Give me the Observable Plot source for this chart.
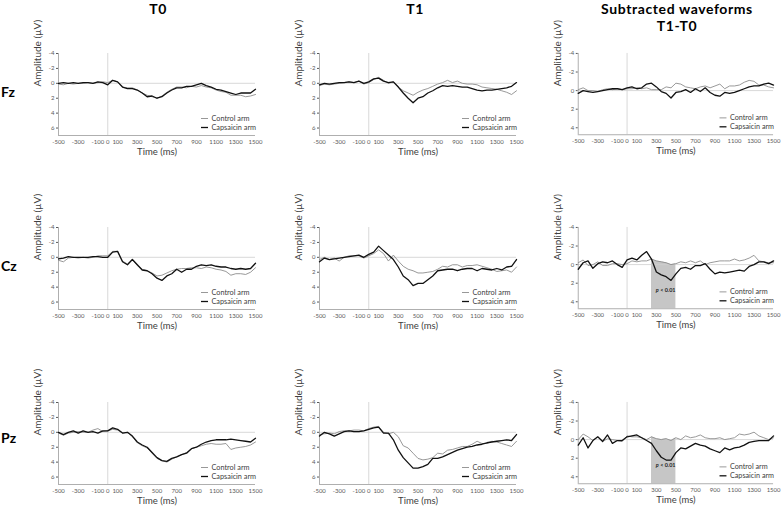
<!DOCTYPE html>
<html><head><meta charset="utf-8">
<script src="https://cdn.jsdelivr.net/npm/d3@7"></script>
<script src="https://cdn.jsdelivr.net/npm/@observablehq/plot@0.6"></script>
<style>
body{margin:0;background:#fff;}
#root{position:relative;width:781px;height:507px;font-family:Lato,"Open Sans",sans-serif;overflow:hidden;}
.title{position:absolute;font-weight:bold;font-size:14px;letter-spacing:0.6px;text-align:center;transform:translateX(-50%);line-height:17px;white-space:nowrap;color:#000;}
.row{position:absolute;font-weight:bold;font-size:14px;line-height:17px;color:#000;}
.panel{position:absolute;}
</style></head><body><div id="root"></div>
<script>
// ---- data ----
const times = [-500,-450,-400,-350,-300,-250,-200,-150,-100,-50,0,50,100,150,200,250,300,350,400,450,500,550,600,650,700,750,800,850,900,950,1000,1050,1100,1150,1200,1250,1300,1350,1400,1450,1500];
const xTicks = [-500,-300,-100,0,100,300,500,700,900,1100,1300,1500];
const yTicksRaw = [-4,-2,0,2,4,6];
const yTicksDiff = [-4,-2,0,2,4];
const colTitles = ["T0","T1","Subtracted waveforms\nT1-T0"];
const rowLabels = ["Fz","Cz","Pz"];
const seriesNames = ["Control arm","Capsaicin arm"];
const sigWindow = [250,500];
const sigLabel = "< 0.01";

const fzT0Control = [0.1,0.2,0.0,0.1,0.0,0.0,-0.1,0.0,-0.1,-0.2,-0.1, -0.4,-0.2,0.5,0.6,0.6,0.9,1.3,1.6,1.8,2.0, 1.7,1.2,0.8,0.5,0.5,0.6,0.4,0.5,0.3,0.5, 0.6,0.9,1.1,1.2,1.6,1.6,1.6,1.8,1.7,1.5];
const fzT0Caps    = [0.0,-0.1,0.0,-0.1,0.0,-0.1,-0.1,0.0,-0.2,-0.1,0.2, -0.4,-0.2,0.5,0.7,0.7,0.9,1.3,1.8,1.7,2.0, 1.8,1.3,0.9,0.6,0.6,0.4,0.4,0.2,0.0,0.3, 0.5,0.8,0.9,1.1,1.3,1.5,1.3,1.3,1.3,0.8];
const fzT1Control = [0.3,0.1,0.2,0.1,0.0,-0.1,-0.2,-0.1,-0.3,0.1,-0.1, -0.5,-0.8,-0.4,0.0,-0.2,0.5,1.0,1.3,1.6,1.2, 0.9,0.7,0.4,0.1,-0.1,-0.4,-0.1,-0.3,0.0,0.1, 0.1,0.2,0.5,0.6,0.7,0.8,1.0,1.2,1.5,1.0];
const fzT1Caps    = [0.2,0.0,0.1,0.0,-0.1,-0.1,-0.2,-0.1,-0.3,0.0,-0.2, -0.6,-0.7,-0.3,-0.1,-0.2,0.5,1.3,2.0,2.6,2.0, 1.8,1.3,1.0,0.6,0.3,0.4,0.3,0.4,0.5,0.5, 0.7,0.9,1.0,0.9,0.9,0.8,0.7,0.6,0.4,-0.1];
const fzDiffControl = [-0.1,-0.3,0.0,0.0,0.1,-0.1,-0.2,-0.1,-0.2,-0.1,-0.2, -0.2,-0.3,-0.2,-0.3,-0.1,-0.1,-0.1,-0.4,-0.3,-0.8, -0.7,-0.4,-0.3,-0.2,-0.4,-0.5,-0.3,-0.5,-0.7,-0.2, -0.5,-0.5,-0.6,-0.9,-1.1,-1.0,-0.6,-0.6,-0.4,-0.3];
const fzDiffCaps    = [0.3,0.0,0.1,0.2,0.1,0.0,-0.1,-0.2,-0.2,-0.1,-0.3, -0.4,-0.2,-0.3,-0.7,-0.8,-0.4,0.1,0.3,0.8,0.2, 0.1,-0.1,0.2,-0.2,0.1,-0.3,0.2,0.5,0.6,0.2, 0.3,0.2,0.0,-0.2,-0.4,-0.5,-0.5,-0.7,-0.8,-0.6];

const czT0Control = [0.4,0.6,0.1,0.0,0.1,0.0,0.1,0.0,-0.2,-0.2,-0.2, -0.8,-0.8,0.5,0.9,0.3,1.1,1.6,1.8,2.1,2.5, 2.4,2.1,1.8,1.6,1.5,1.5,1.4,1.4,1.5,1.3, 1.4,1.6,1.7,1.9,2.4,2.2,2.2,2.3,2.0,1.4];
const czT0Caps    = [0.2,0.1,-0.1,0.0,0.0,0.0,0.0,-0.1,-0.1,0.0,0.0, -0.7,-0.8,0.6,1.0,0.3,1.0,1.7,1.8,2.2,2.8, 3.1,2.5,2.2,1.6,2.0,1.6,1.6,1.2,1.0,1.1, 1.0,1.2,1.3,1.3,1.5,1.6,1.5,1.6,1.5,0.8];
const czT1Control = [0.3,0.0,0.3,0.1,0.5,0.0,-0.2,-0.2,-0.2,0.1,-0.2, -0.5,-1.0,-0.5,0.5,-0.3,0.5,1.2,1.6,1.8,2.1, 2.1,2.0,1.9,1.6,1.2,1.3,1.0,1.0,1.3,1.1, 1.1,1.0,1.2,1.4,1.6,1.9,1.8,1.7,2.0,1.3];
const czT1Caps    = [0.6,0.1,0.3,0.2,0.1,0.0,-0.1,-0.2,-0.3,0.0,-0.4, -0.7,-1.5,-0.9,-0.3,0.3,1.3,2.5,3.0,3.8,3.5, 3.5,3.0,2.5,1.8,1.7,1.6,1.6,1.8,1.6,1.5, 1.5,1.8,1.5,1.6,1.7,1.5,1.7,1.3,1.2,0.3];
const czDiffControl = [-0.2,-0.5,0.1,0.0,-0.3,0.1,0.1,-0.1,-0.1,0.0,-0.1, -0.4,-0.3,-0.4,-0.4,-0.6,-0.4,-0.3,-0.2,0.0,-0.1, -0.3,-0.2,-0.4,-0.2,-0.4,0.0,-0.2,-0.3,-0.4,-0.4, -0.4,-0.6,-0.4,-0.5,-0.7,-1.0,-0.4,-0.3,-0.2,-0.2];
const czDiffCaps    = [0.5,-0.2,-0.4,0.4,-0.1,-0.3,-0.2,-0.4,0.0,0.3,-0.5, -0.7,-0.5,-1.0,-1.4,-0.6,0.8,1.1,1.3,1.7,1.0, 0.4,0.3,0.5,0.1,0.1,-0.1,0.5,1.0,0.8,0.9, 0.8,0.7,0.6,0.7,0.2,0.0,-0.3,-0.3,-0.1,-0.4];

const pzT0Control = [0.1,0.4,0.1,0.0,-0.1,0.0,0.0,-0.3,-0.5,-0.1,-0.2, -0.4,-0.3,0.1,0.0,0.6,1.4,1.8,2.1,2.8,3.5, 3.8,4.0,3.6,3.3,3.0,2.7,2.2,2.0,1.8,1.6, 1.5,1.6,1.6,1.5,2.3,2.1,2.0,1.9,1.7,1.3];
const pzT0Caps    = [0.0,0.3,0.0,-0.2,0.1,-0.2,0.0,-0.1,0.1,-0.2,-0.2, -0.6,-0.4,0.1,0.0,0.5,1.3,1.7,2.0,2.7,3.4, 3.8,3.9,3.5,3.3,3.0,2.8,2.2,2.0,1.6,1.3, 1.1,1.0,1.0,1.0,0.9,1.0,1.1,1.2,1.3,0.8];
const pzT1Control = [0.3,0.2,0.1,0.2,-0.1,-0.2,-0.2,-0.3,-0.3,-0.2,-0.5, -0.7,-0.8,0.0,0.2,0.0,0.6,1.8,2.1,2.8,3.5, 3.7,3.6,3.4,2.8,2.9,2.4,2.3,2.1,1.9,1.9, 1.6,1.2,1.5,1.5,1.2,1.3,1.5,1.7,1.9,1.2];
const pzT1Caps    = [0.5,0.0,0.2,0.5,0.2,-0.1,-0.2,-0.1,-0.1,-0.2,-0.4, -0.6,-0.7,0.1,0.1,1.0,2.4,3.4,4.1,4.8,4.8, 4.6,4.3,3.5,3.5,3.3,3.0,2.7,2.4,2.2,2.0, 1.9,1.7,1.6,1.4,1.3,1.2,1.1,1.0,1.1,0.3];
const pzDiffControl = [0.0,-0.6,-0.3,0.1,-0.3,0.2,-0.1,0.0,0.1,0.2,-0.4, -0.3,-0.3,-0.2,0.0,-0.3,-0.1,0.0,-0.1,0.1,-0.2, 0.0,-0.4,-0.2,-0.3,-0.5,-0.2,-0.1,-0.1,-0.2,0.0, -0.1,-0.2,-0.6,-0.5,-0.6,-0.8,-0.4,-0.2,0.0,-0.2];
const pzDiffCaps    = [0.6,-0.2,0.9,0.1,-0.3,0.2,-0.5,0.4,0.1,0.1,-0.3, -0.4,-0.5,-0.2,0.1,0.4,1.2,1.9,2.2,2.2,1.4, 0.9,1.0,0.7,0.4,0.6,0.7,1.0,1.2,1.4,0.9, 1.1,0.9,0.8,0.6,0.3,0.2,0.1,0.1,0.1,-0.4];

// ---- layout ----
const panels = [
  [[fzT0Control,fzT0Caps],[fzT1Control,fzT1Caps],[fzDiffControl,fzDiffCaps]],
  [[czT0Control,czT0Caps],[czT1Control,czT1Caps],[czDiffControl,czDiffCaps]],
  [[pzT0Control,pzT0Caps],[pzT1Control,pzT1Caps],[pzDiffControl,pzDiffCaps]]
];
const colLefts = [58, 319, 578];
const rowTops = [53, 227, 402];
const colBottoms = [7, 7, 4.75];
const colYTicks = [yTicksRaw, yTicksRaw, yTicksDiff];
const showSig = [[false,false,false],[false,false,true],[false,false,true]];
const FW = 197, FH = 82, ML = 30, MR = 8, MT = 6, MB = 30;
const root = document.getElementById("root");

// titles
const titleCenters = [158, 415, 677];
colTitles.forEach((t, i) => {
  t.split("\n").forEach((line, j) => {
    const d = document.createElement("div");
    d.className = "title"; d.textContent = line;
    d.style.left = titleCenters[i] + "px"; d.style.top = (0 + j * 17) + "px";
    root.appendChild(d);
  });
});
const rowCenters = [91, 265, 437];
rowLabels.forEach((t, i) => {
  const d = document.createElement("div");
  d.className = "row"; d.textContent = t;
  d.style.left = "1px"; d.style.top = (rowCenters[i] - 8.5) + "px";
  root.appendChild(d);
});

const fmt = d => String(d);
for (let r = 0; r < 3; r++) {
  for (let c = 0; c < 3; c++) {
    const [ctrl, caps] = panels[r][c];
    const bottom = colBottoms[c];
    const data = times.map((t, i) => ({t, control: ctrl[i], caps: caps[i]}));
    const yPx = px => -4 + px * (bottom + 4) / FH;
    const xPx = px => -500 + px * 2000 / FW;
    const marks = [];
    if (showSig[r][c]) {
      marks.push(Plot.areaY(data.filter(d => d.t >= sigWindow[0] && d.t <= sigWindow[1]),
        {x: "t", y1: bottom, y2: "control", fill: "#c6c6c6"}));
    }
    marks.push(
      Plot.ruleY([0], {stroke: "#cfcfcf", strokeWidth: 0.8}),
      Plot.ruleX([0], {y1: -4, y2: bottom, stroke: "#cfcfcf", strokeWidth: 0.8}),
      Plot.ruleX([-500], {y1: -4, y2: bottom, stroke: "#9a9a9a", strokeWidth: 0.8}),
      Plot.ruleY([bottom], {stroke: "#9a9a9a", strokeWidth: 0.8}),
      Plot.lineY(data, {x: "t", y: "control", stroke: "#8c8c8c", strokeWidth: 0.9}),
      Plot.lineY(data, {x: "t", y: "caps", stroke: "#111", strokeWidth: 1.3}),
      // legend
      Plot.ruleY([yPx(65)], {x1: xPx(143), x2: xPx(150), stroke: "#8c8c8c", strokeWidth: 0.9}),
      Plot.ruleY([yPx(74)], {x1: xPx(143), x2: xPx(150), stroke: "#111", strokeWidth: 1.3}),
      Plot.text([seriesNames[0]], {x: xPx(153), y: yPx(65), textAnchor: "start", fontSize: 7.3, fill: "#404040"}),
      Plot.text([seriesNames[1]], {x: xPx(153), y: yPx(74), textAnchor: "start", fontSize: 7.3, fill: "#404040"}),
      // axis labels
      Plot.text(["Amplitude (µV)"], {frameAnchor: "left", rotate: -90, dx: -21, dy: -8, fontSize: 10, fill: "#404040"}),
      Plot.text(["Time (ms)"], {frameAnchor: "bottom", dy: 19, fontSize: 9.5, fill: "#404040"})
    );
    if (showSig[r][c]) {
      const xm = (sigWindow[0] + sigWindow[1]) / 2;
      marks.push(
        Plot.text(["p"], {x: xm, y: yPx(63), dx: -5, textAnchor: "end", fontSize: 5.5, fontWeight: "bold", fontStyle: "italic", fill: "#222"}),
        Plot.text([sigLabel], {x: xm, y: yPx(63), dx: -3.5, textAnchor: "start", fontSize: 5.5, fontWeight: "bold", fill: "#222"})
      );
    }
    const svg = Plot.plot({
      width: ML + FW + MR, height: MT + FH + MB,
      marginLeft: ML, marginRight: MR, marginTop: MT, marginBottom: MB,
      style: {fontFamily: "Lato, 'Open Sans', sans-serif", fontSize: "6px", color: "#595959", background: "transparent", overflow: "visible"},
      x: {domain: [-500, 1500], ticks: xTicks, tickFormat: fmt, tickSize: 0, tickPadding: 4, label: null},
      y: {domain: [-4, bottom], reverse: true, ticks: colYTicks[c], tickFormat: fmt, tickSize: 2, tickPadding: 2, label: null},
      marks
    });
    const wrap = document.createElement("div");
    wrap.className = "panel";
    wrap.style.left = (colLefts[c] - ML) + "px";
    wrap.style.top = (rowTops[r] - MT) + "px";
    wrap.appendChild(svg);
    root.appendChild(wrap);
  }
}
</script>
</body></html>
